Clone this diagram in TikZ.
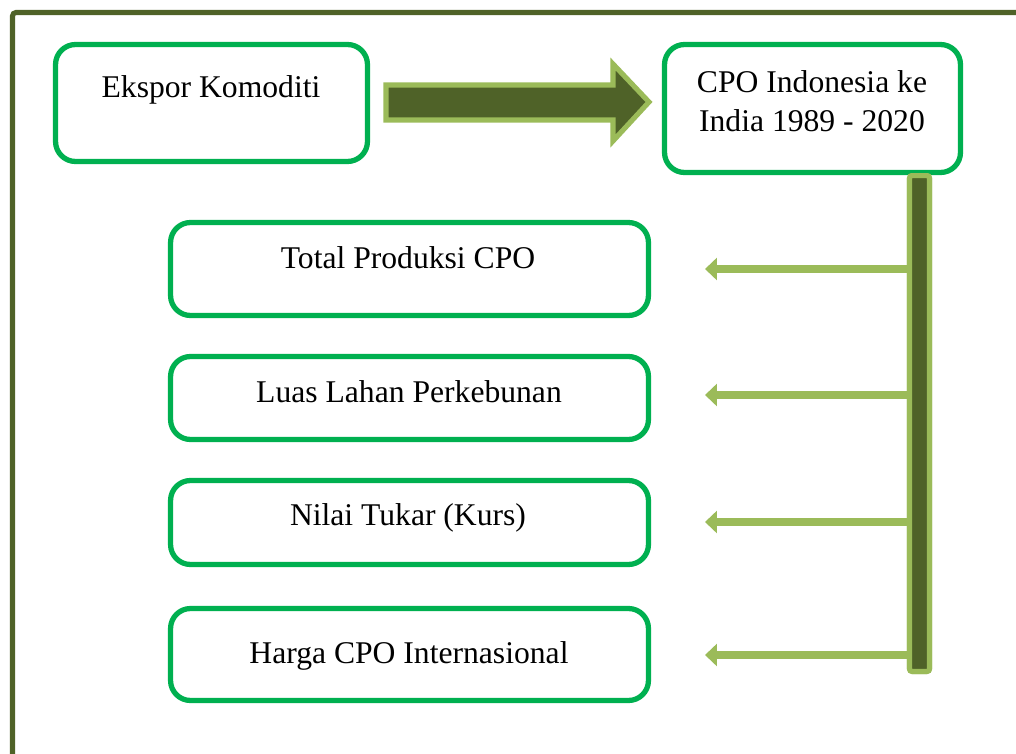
\documentclass[tikz,border=0pt]{standalone}
\usepackage{fontspec}
\setmainfont{Liberation Serif}
\usetikzlibrary{arrows.meta}
\definecolor{olive}{HTML}{4F6228}
\definecolor{leaf}{HTML}{9BBB59}
\definecolor{frameg}{HTML}{00B050}
\begin{document}
\begin{tikzpicture}[x=0.02cm,y=-0.02cm,
    every node/.style={font=\fontsize{18}{22.7}\selectfont},
    box/.style={draw=frameg,line width=3pt,rounded corners=0.4cm,inner sep=0pt,fill=white},
    feed/.style={leaf,line width=5.1pt,-{Triangle[width=12.5pt,length=6.8pt]}}]
    \useasboundingbox (0,0) rectangle (1016,753);
    % outer frame
    \draw[olive,line width=2.9pt,rounded corners=2pt] (12.5,760) -- (12.5,12.5) -- (1020,12.5);
    % top row
    \node[box,minimum width=6.24cm,minimum height=2.34cm] (ekspor) at (211.5,103) {};
    \node[anchor=base] (eksporT) at (211,98) {Ekspor Komoditi};
    \node[box,minimum width=5.92cm,minimum height=2.56cm] (cpo) at (812.5,108.5) {};
    \node[anchor=base,align=center] (cpoT) at (812,132) {CPO Indonesia ke\\India 1989 - 2020};
    % block arrow between the two
    \draw[leaf,fill=olive,line width=2.9pt] (386,85) -- (613,85) -- (613,64) -- (649,102)
      -- (613,141) -- (613,120) -- (386,120) -- cycle;
    % factor boxes
    \node[box,minimum width=9.56cm,minimum height=1.86cm] (total) at (409.5,269) {};
    \node[anchor=base] (totalT) at (408,268) {Total Produksi CPO};
    \node[box,minimum width=9.56cm,minimum height=1.66cm] (luas) at (409.5,398) {};
    \node[anchor=base] (luasT) at (409,402) {Luas Lahan Perkebunan};
    \node[box,minimum width=9.56cm,minimum height=1.68cm] (nilai) at (409.5,522.5) {};
    \node[anchor=base] (nilaiT) at (408,525) {Nilai Tukar (Kurs)};
    \node[box,minimum width=9.56cm,minimum height=1.84cm] (harga) at (409.5,654.5) {};
    \node[anchor=base] (hargaT) at (409,663) {Harga CPO Internasional};
    % arrow tips
    \coordinate (tipA) at (705,269);
    \coordinate (tipB) at (705,395);
    \coordinate (tipC) at (705,522);
    \coordinate (tipD) at (705,655);
    % vertical bar and branches
    \node[draw=leaf,fill=olive,line width=2.9pt,rounded corners=1.5pt,inner sep=0pt,
      minimum width=0.4cm,minimum height=9.92cm] (bar) at (919.5,423.5) {};
    \draw[feed] (bar.center |- tipA) -- (tipA);
    \draw[feed] (bar.center |- tipB) -- (tipB);
    \draw[feed] (bar.center |- tipC) -- (tipC);
    \draw[feed] (bar.center |- tipD) -- (tipD);
    \node[draw=leaf,fill=olive,line width=2.9pt,rounded corners=1.5pt,inner sep=0pt,
      minimum width=0.4cm,minimum height=9.92cm] (barTop) at (bar) {};
  \end{tikzpicture}
\end{document}
